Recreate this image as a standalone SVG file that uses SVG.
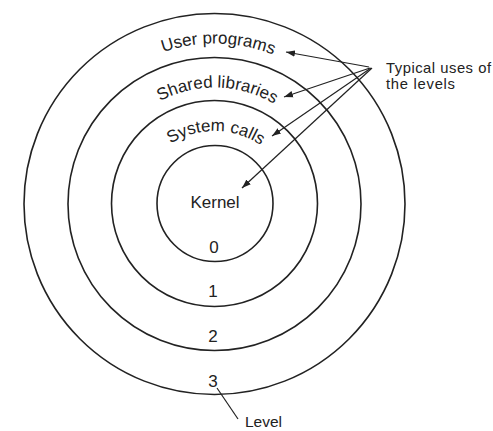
<svg xmlns="http://www.w3.org/2000/svg" xmlns:xlink="http://www.w3.org/1999/xlink" width="493" height="431" viewBox="0 0 493 431">
<style>
.ring{fill:none;stroke:#222;stroke-width:1.6}
.lbl{font-family:"Liberation Sans",Arial,sans-serif;font-size:17px;fill:#222}
.side{font-family:"Liberation Sans",Arial,sans-serif;font-size:14.8px;fill:#222}
.conn{stroke:#222;stroke-width:1.2;fill:none}
</style>
<defs>
<marker id="ah" markerUnits="userSpaceOnUse" markerWidth="10" markerHeight="8" refX="9" refY="4" orient="auto">
<path d="M0,0.8 L9,4 L0,7.2 Z" fill="#222"/>
</marker>
<path id="arcU" d="M 54.5 203.5 A 160 160 0 0 1 374.5 203.5"/>
<path id="arcS" d="M 98.5 203.5 A 116 116 0 0 1 330.5 203.5"/>
<path id="arcC" d="M 132.5 213 A 82 82 0 0 1 296.5 213"/>
</defs>
<rect width="493" height="431" fill="#fff"/>
<g id="level3"><circle class="ring" cx="214.5" cy="204" r="190.5"/>
<text class="lbl"><textPath xlink:href="#arcU" startOffset="255" text-anchor="middle">User programs</textPath></text>
<text class="lbl" x="213" y="387" text-anchor="middle">3</text></g>
<g id="level2"><circle class="ring" cx="214.5" cy="204" r="146.5"/>
<text class="lbl"><textPath xlink:href="#arcS" startOffset="185" text-anchor="middle">Shared libraries</textPath></text>
<text class="lbl" x="213" y="342" text-anchor="middle">2</text></g>
<g id="level1"><circle class="ring" cx="214.5" cy="203.5" r="103"/>
<text class="lbl"><textPath xlink:href="#arcC" startOffset="130" text-anchor="middle">System calls</textPath></text>
<text class="lbl" x="213" y="297" text-anchor="middle">1</text></g>
<g id="level0"><circle class="ring" cx="215" cy="203.5" r="58"/>
<text class="lbl" x="215" y="208" text-anchor="middle">Kernel</text>
<text class="lbl" x="214" y="253" text-anchor="middle">0</text></g>
<g id="typical"><text class="side" x="386" y="73" textLength="105" lengthAdjust="spacing">Typical uses of</text><text class="side" x="386" y="89" textLength="69" lengthAdjust="spacing">the levels</text></g>
<g id="levelnote"><text class="side" x="245" y="427" style="font-size:15.5px">Level</text></g>
<g id="connectors">
<line class="conn" x1="369" y1="67" x2="286" y2="52" marker-end="url(#ah)"/>
<line class="conn" x1="370" y1="68" x2="284" y2="97" marker-end="url(#ah)"/>
<line class="conn" x1="371" y1="68" x2="272" y2="136" marker-end="url(#ah)"/>
<line class="conn" x1="372" y1="68" x2="242" y2="188" marker-end="url(#ah)"/>
<line class="conn" x1="217" y1="388" x2="238" y2="419"/>
</g>
</svg>
